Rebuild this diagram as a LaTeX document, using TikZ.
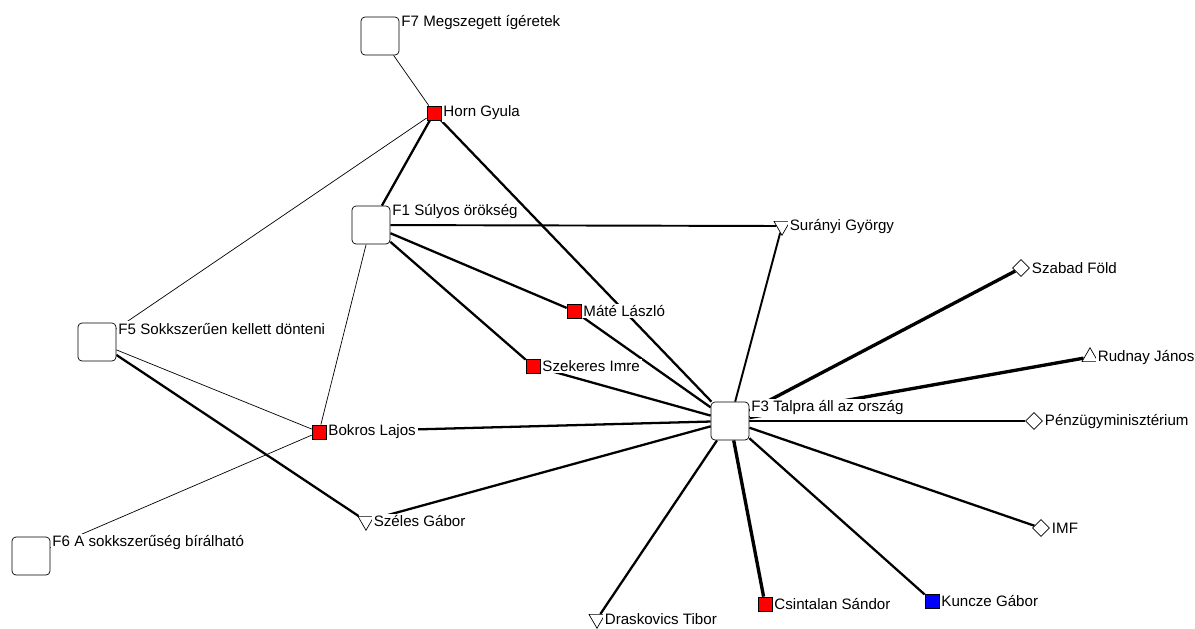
\documentclass[tikz,border=0pt]{standalone}
\usepackage{fontspec}
\setmainfont{Liberation Sans}
\usepackage{tikz}
\usetikzlibrary{shapes,backgrounds}

\begin{document}
\begin{tikzpicture}[x=0.2mm,y=-0.2mm]
			\tikzstyle{lbl}=[font=\fontsize{8.6}{10}\selectfont,inner sep=1pt,fill=white]
			\tikzstyle{theme}=[rectangle,rounded corners=.8mm,minimum size=7.6mm,draw,thin,fill=white]
			\tikzstyle{politician}=[rectangle,minimum size=2.8mm,inner sep=0pt,draw,thin,fill=red,label distance=.5mm]
			\tikzstyle{liberal}=[rectangle,minimum size=2.8mm,inner sep=0pt,draw,thin,fill=blue,label distance=.5mm]
			\tikzstyle{institution}=[diamond,minimum size=3.4mm,inner sep=0pt,draw,thin,fill=white]
			\tikzstyle{economist}=[regular polygon,regular polygon sides=3,shape border rotate=180,minimum size=3.7mm,inner sep=0pt,draw,thin,fill=white]
			\tikzstyle{banker}=[regular polygon,regular polygon sides=3,minimum size=3.7mm,inner sep=0pt,draw,thin,fill=white]
			\tikzstyle{weak}=[line width=.4pt]
			\tikzstyle{medium}=[line width=1.1pt]
			\tikzstyle{strong}=[line width=1.3pt]
			\tikzstyle{strongest}=[line width=1.9pt]
			
			\useasboundingbox (0,0) rectangle (1195,628);
			
			% themes
			\node [theme,label={[lbl,anchor=west,yshift=-1.2mm]north east:F7 Megszegett ígéretek}] (F7) at (380,36) {};
			\node [theme,label={[lbl,anchor=west,yshift=-1.2mm]north east:F1 Súlyos örökség}] (F1) at (371,225) {};
			\node [theme,label={[lbl,anchor=west,yshift=-1.2mm]north east:F5 Sokkszerűen kellett dönteni}] (F5) at (97,342) {};
			\node [theme,label={[lbl,anchor=west,yshift=-1.2mm]north east:F3 Talpra áll az ország}] (F3) at (730,421) {};
			\node [theme,label={[lbl,anchor=west,yshift=-1.2mm]north east:F6 A sokkszerűség bírálható}] (F6) at (31,556) {};
			
			% actors
			\node [politician,label={[lbl]right:Horn Gyula}] (horn) at (434,113) {};
			\node [economist,label={[lbl]right:Surányi György}] (suranyi) at (782,226) {};
			\node [politician,label={[lbl]right:Máté László}] (mate) at (574,311) {};
			\node [politician,label={[lbl]right:Szekeres Imre}] (szekeres) at (533,366) {};
			\node [politician,label={[lbl]right:Bokros Lajos}] (bokros) at (319,432) {};
			\node [institution,label={[lbl]right:Szabad Föld}] (szabad) at (1021,268) {};
			\node [banker,label={[lbl]right:Rudnay János}] (rudnay) at (1090,357) {};
			\node [institution,label={[lbl]right:Pénzügyminisztérium}] (penzugy) at (1034,421) {};
			\node [institution,label={[lbl]right:IMF}] (imf) at (1041,528) {};
			\node [economist,label={[lbl]right:Széles Gábor}] (szeles) at (366,521) {};
			\node [economist,label={[lbl]right:Draskovics Tibor}] (draskovics) at (597,619) {};
			\node [politician,label={[lbl]right:Csintalan Sándor}] (csintalan) at (765,604) {};
			\node [liberal,label={[lbl]right:Kuncze Gábor}] (kuncze) at (932,601) {};
			
			% ties
			\begin{pgfonlayer}{background}
			\draw [weak] (F7) -- (horn);
			\draw [weak] (horn) -- (F5);
			\draw [weak] (F1) -- (bokros);
			\draw [weak] (F5) -- (bokros);
			\draw [weak] (F6) -- (bokros);
			\draw [medium] (F1) -- (suranyi);
			\draw [medium] (suranyi) -- (F3);
			\draw [strong] (horn) -- (F1);
			\draw [strong] (horn) -- (F3);
			\draw [strong] (F1) -- (mate);
			\draw [strong] (F1) -- (szekeres);
			\draw [strong] (mate) -- (F3);
			\draw [strong] (szekeres) -- (F3);
			\draw [strong] (bokros) -- (F3);
			\draw [strong] (F5) -- (szeles);
			\draw [strong] (szeles) -- (F3);
			\draw [strongest] (F3) -- (szabad);
			\draw [strongest] (F3) -- (rudnay);
			\draw [strong] (F3) -- (penzugy);
			\draw [strong] (F3) -- (imf);
			\draw [strong] (F3) -- (draskovics);
			\draw [strongest] (F3) -- (csintalan);
			\draw [strong] (F3) -- (kuncze);
			\end{pgfonlayer}
\end{tikzpicture}
\end{document}
